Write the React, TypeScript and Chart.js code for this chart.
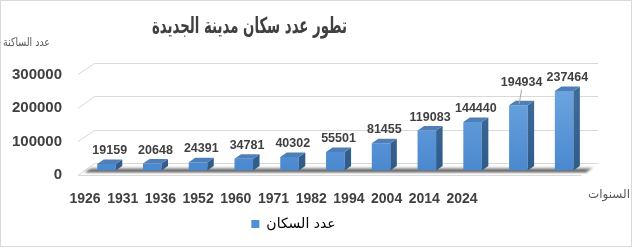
import { useEffect, useRef } from "react";
import { Chart, registerables } from "chart.js";

Chart.register(...registerables);

// ---- data ----
const years = ["1926", "1931", "1936", "1952", "1960", "1971", "1982", "1994", "2004", "2014", "2024"];
const population = [19159, 20648, 24391, 34781, 40302, 55501, 81455, 119083, 144440, 194934, 237464];
const yTickValues = [0, 100000, 200000, 300000];
const seriesName = "عدد السكان";
const titleText = "تطور عدد سكان مدينة الجديدة";
const yTitleText = "عدد الساكنة";
const xTitleText = "السنوات";

// ---- style ----
const ARABIC = "'DejaVu Sans', sans-serif";
const NUM = "'Liberation Sans', Arial, sans-serif";
const TEXT_DARK = "#404040";
const TEXT_MID = "#595959";
const GRID = "#d9d9d9";
const FRONT = { dx: -5.6, dy: 4 };
const BACK = { dx: 11, dy: -7.5 };
const DEPTH = { dx: 6.5, dy: -4.5 };
const LEADER_INDEX = 9;
const LEADER_LIFT = 9;
const PLOT_LEFT = 83.6;
const X_LABEL_START = 85;
const X_LABEL_PITCH = 37.7;
const PLOT_WIDTH = 503.4;
const X2_MIN = -(X_LABEL_START - PLOT_LEFT) / X_LABEL_PITCH;
const X2_MAX = X2_MIN + PLOT_WIDTH / X_LABEL_PITCH;

function drawFitted(
  ctx: CanvasRenderingContext2D,
  text: string,
  cx: number,
  cy: number,
  font: string,
  targetWidth: number
) {
  ctx.save();
  ctx.font = font;
  ctx.textAlign = "center";
  ctx.textBaseline = "middle";
  const w = ctx.measureText(text).width;
  const sx = w > 0 ? targetWidth / w : 1;
  ctx.translate(cx, cy);
  ctx.scale(sx, 1);
  ctx.fillText(text, 0, 0);
  ctx.restore();
}

const threeD = {
  id: "threeD",
  beforeDraw(chart: any) {
    const { ctx, width, height } = chart;
    ctx.save();
    ctx.fillStyle = "#ffffff";
    ctx.fillRect(0, 0, width, height);
    ctx.strokeStyle = GRID;
    ctx.lineWidth = 1;
    ctx.strokeRect(0.5, 0.5, width - 2, height - 2);
    ctx.restore();
  },
  beforeDatasetsDraw(chart: any) {
    const { ctx, chartArea, scales } = chart;
    const { left, right } = chartArea;
    const y = scales.y;
    ctx.save();
    ctx.strokeStyle = GRID;
    ctx.lineWidth = 1;
    yTickValues.forEach((v) => {
      const py = y.getPixelForValue(v);
      const fy = Math.round(py + FRONT.dy) + 0.5;
      const by = Math.round(py + BACK.dy) + 0.5;
      ctx.beginPath();
      ctx.moveTo(left + FRONT.dx, fy);
      ctx.lineTo(left + BACK.dx, by);
      ctx.lineTo(right + BACK.dx, by);
      ctx.stroke();
    });
    const p0 = y.getPixelForValue(0);
    const f0 = Math.round(p0 + FRONT.dy) + 0.5;
    ctx.beginPath();
    ctx.moveTo(left + FRONT.dx, f0);
    ctx.lineTo(right + FRONT.dx, f0);
    ctx.stroke();
    // floor shadow band
    const pt = (t: number, xx: number) => [
      xx + FRONT.dx + t * (BACK.dx - FRONT.dx),
      p0 + FRONT.dy + t * (BACK.dy - FRONT.dy),
    ];
    const a = 0.12, b = 0.62;
    const [x1, y1] = pt(a, left + 4);
    const [x2, y2] = pt(a, right + 2);
    const [x3, y3] = pt(b, right + 2);
    const [x4, y4] = pt(b, left + 4);
    const g = ctx.createLinearGradient(0, y4, 0, y1);
    g.addColorStop(0, "rgba(150,150,150,0.35)");
    g.addColorStop(0.45, "rgba(70,70,70,0.8)");
    g.addColorStop(0.75, "rgba(60,60,60,0.85)");
    g.addColorStop(1, "rgba(170,170,170,0.3)");
    ctx.filter = "blur(1px)";
    ctx.fillStyle = g;
    ctx.beginPath();
    ctx.moveTo(x1, y1);
    ctx.lineTo(x2, y2);
    ctx.lineTo(x3, y3);
    ctx.lineTo(x4, y4);
    ctx.closePath();
    ctx.fill();
    ctx.restore();
  },
  afterDatasetsDraw(chart: any) {
    const { ctx, chartArea } = chart;
    const meta = chart.getDatasetMeta(0);
    ctx.save();
    const sideGrad = ctx.createLinearGradient(0, chartArea.top, 0, chartArea.bottom);
    sideGrad.addColorStop(0, "#41709f");
    sideGrad.addColorStop(1, "#2f5b8a");
    meta.data.forEach((el: any, i: number) => {
      const { x, y, base, width } = el.getProps(["x", "y", "base", "width"], true);
      const l = x - width / 2;
      const r = x + width / 2;
      ctx.fillStyle = sideGrad;
      ctx.beginPath();
      ctx.moveTo(r, y);
      ctx.lineTo(r + DEPTH.dx, y + DEPTH.dy);
      ctx.lineTo(r + DEPTH.dx, base + DEPTH.dy);
      ctx.lineTo(r, base);
      ctx.closePath();
      ctx.fill();
      ctx.fillStyle = "#4f7fb7";
      ctx.beginPath();
      ctx.moveTo(l, y);
      ctx.lineTo(l + DEPTH.dx, y + DEPTH.dy);
      ctx.lineTo(r + DEPTH.dx, y + DEPTH.dy);
      ctx.lineTo(r, y);
      ctx.closePath();
      ctx.fill();
      // value label
      const lift = i === LEADER_INDEX ? LEADER_LIFT : 0;
      const cx = x + DEPTH.dx / 2;
      const ly = y - 13.5 - lift;
      ctx.font = `bold 12.5px ${NUM}`;
      ctx.fillStyle = TEXT_DARK;
      ctx.textAlign = "center";
      ctx.textBaseline = "middle";
      ctx.fillText(String(population[i]), cx, ly);
      if (lift) {
        ctx.strokeStyle = "#a6a6a6";
        ctx.lineWidth = 1;
        ctx.beginPath();
        ctx.moveTo(cx, ly + 7);
        ctx.lineTo(cx - 2.5, y - 1);
        ctx.stroke();
      }
    });
    ctx.restore();
  },
  afterDraw(chart: any) {
    const { ctx } = chart;
    ctx.save();
    ctx.fillStyle = TEXT_DARK;
    drawFitted(ctx, titleText, 249.5, 27.5, `bold 22px ${ARABIC}`, 195);
    ctx.fillStyle = TEXT_MID;
    drawFitted(ctx, yTitleText, 26.5, 43, `12px ${ARABIC}`, 47);
    drawFitted(ctx, xTitleText, 609, 195, `12px ${ARABIC}`, 42);
    ctx.restore();
  },
};

export default function App() {
  const canvasRef = useRef<HTMLCanvasElement | null>(null);

  useEffect(() => {
    const canvas = canvasRef.current;
    if (!canvas) return;
    const chart = new Chart(canvas, {
      type: "bar",
      data: {
        labels: years,
        datasets: [
          {
            label: seriesName,
            data: population,
            xAxisID: "x",
            yAxisID: "y",
            categoryPercentage: 1,
            barPercentage: 0.405,
            backgroundColor: (c: any) => {
              const { ctx, chartArea } = c.chart;
              if (!chartArea) return "#5b9bd5";
              const g = ctx.createLinearGradient(0, chartArea.top, 0, chartArea.bottom);
              g.addColorStop(0, "#74abe4");
              g.addColorStop(1, "#4a88cf");
              return g;
            },
            borderWidth: 0,
          },
        ],
      },
      options: {
        responsive: false,
        animation: false,
        devicePixelRatio: 1,
        layout: { padding: { top: 70, right: 46, bottom: 7, left: 0 } },
        plugins: {
          title: { display: false },
          tooltip: { enabled: false },
          legend: {
            display: true,
            position: "bottom",
            labels: {
              boxWidth: 8,
              boxHeight: 8,
              padding: 10,
              color: TEXT_MID,
              font: { family: ARABIC, size: 14 },
              generateLabels: () => [
                {
                  text: seriesName,
                  fillStyle: "#4f8fd6",
                  strokeStyle: "#4f8fd6",
                  lineWidth: 0,
                  hidden: false,
                  datasetIndex: 0,
                },
              ],
            },
          },
        },
        scales: {
          x: {
            type: "category",
            display: false,
            offset: true,
            grid: { display: false },
          },
          x2: {
            type: "linear",
            position: "bottom",
            offset: false,
            bounds: "data",
            grace: 0,
            min: X2_MIN,
            max: X2_MAX,
            afterBuildTicks: (s: any) => {
              s.ticks = years.map((_, i) => ({ value: i }));
            },
            afterFit: (s: any) => {
              s.height = 36.5;
            },
            grid: { display: false, drawTicks: false, offset: false },
            border: { display: false },
            ticks: {
              autoSkip: false,
              maxRotation: 0,
              padding: 20,
              color: TEXT_DARK,
              font: { family: NUM, size: 14, weight: "bold" },
              callback: (v: any) => years[Math.round(Number(v))] ?? "",
            },
          },
          y: {
            type: "linear",
            min: 0,
            max: 300000,
            afterBuildTicks: (s: any) => {
              s.ticks = yTickValues.map((v) => ({ value: v }));
            },
            afterFit: (s: any) => {
              s.width = PLOT_LEFT;
            },
            grid: { display: false, drawTicks: false },
            border: { display: false },
            ticks: {
              padding: 21.6,
              labelOffset: 4.5,
              color: TEXT_DARK,
              font: { family: NUM, size: 15, weight: "bold" },
              callback: (v: any) => String(v),
            },
          },
        },
      },
      plugins: [threeD],
    });
    return () => chart.destroy();
  }, []);

  return (
    <div style={{ position: "fixed", left: 0, top: 0, width: 633, height: 248, background: "#fff" }}>
      <canvas ref={canvasRef} width={633} height={248} style={{ display: "block" }} />
    </div>
  );
}
